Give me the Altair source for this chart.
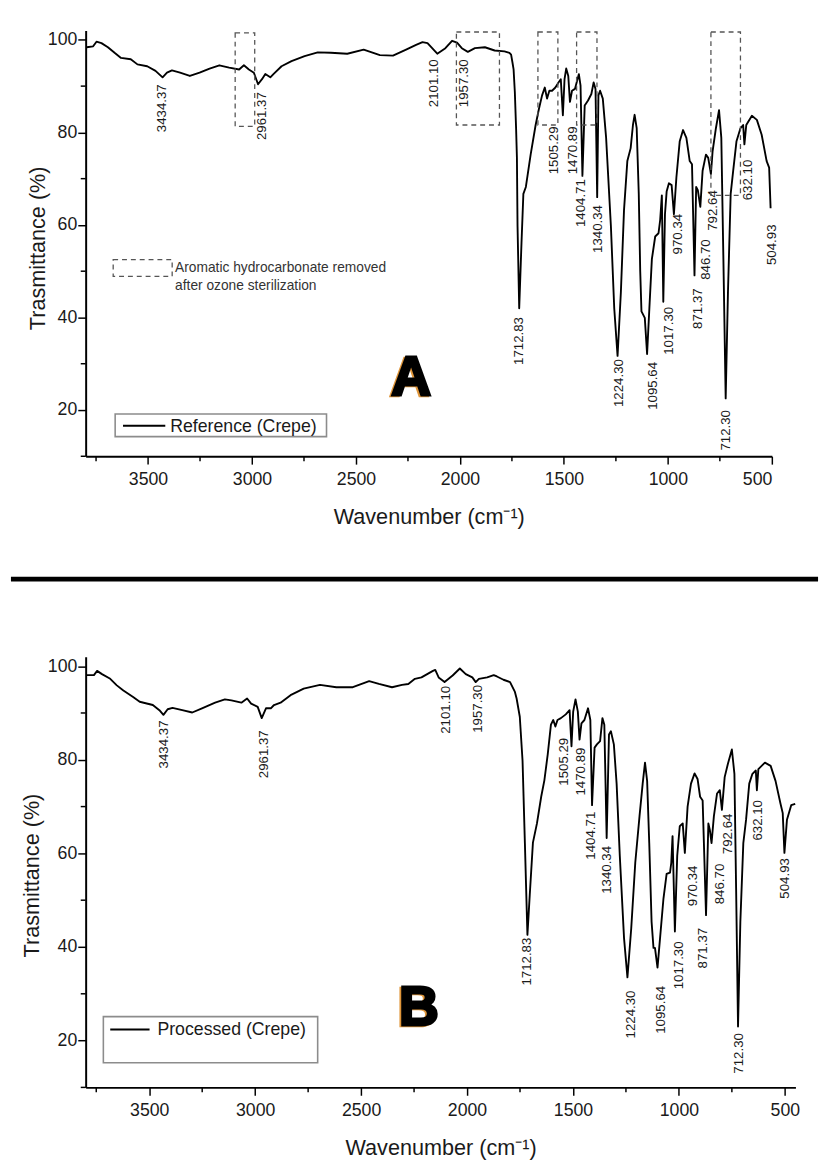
import altair as alt
import pandas as pd

FONT = "Liberation Sans"
INK = "#1a1a1a"

# ---------------- data: panel A (Reference crepe) ----------------
a_wn = [3795, 3764, 3748, 3724, 3693, 3661, 3630, 3583, 3551, 3504, 3464, 3430, 3409, 3385,
        3346, 3299, 3252, 3204, 3157, 3110, 3062, 3039, 3015, 2991, 2971, 2952, 2936, 2912,
        2897, 2858, 2810, 2747, 2684, 2621, 2542, 2463, 2385, 2322, 2259, 2211, 2180, 2156,
        2109, 2070, 2038, 2014, 1991, 1962, 1928, 1880, 1833, 1786, 1762, 1754, 1747, 1742,
        1736, 1730, 1726, 1723, 1715, 1704, 1695, 1683, 1660, 1636, 1620, 1605, 1592, 1581,
        1570, 1557, 1541, 1526, 1515, 1505, 1497, 1489, 1479, 1471, 1461, 1447, 1428, 1420,
        1411, 1400, 1384, 1368, 1357, 1348, 1340, 1334, 1326, 1313, 1297, 1274, 1258, 1242,
        1226, 1211, 1195, 1179, 1168, 1160, 1150, 1140, 1133, 1127, 1111, 1100, 1089, 1077,
        1061, 1045, 1037, 1029, 1022, 1014, 1006, 995, 982, 971, 959, 943, 927, 911, 895,
        884, 872, 864, 856, 844, 833, 817, 806, 793, 785, 769, 754, 743, 733, 722, 711, 698,
        686, 670, 651, 638, 632, 623, 596, 572, 549, 525, 513, 506]
a_t = [98.4, 98.6, 99.6, 99.3, 98.4, 97.2, 96.1, 95.8, 94.7, 94.3, 93.3, 91.9, 92.9, 93.4,
       92.9, 92.2, 92.9, 93.8, 94.5, 94.0, 93.6, 94.5, 93.6, 92.9, 90.4, 91.5, 92.6, 91.9,
       92.6, 94.3, 95.4, 96.5, 97.3, 97.2, 97.0, 97.9, 96.7, 96.6, 97.9, 98.9, 99.5, 99.3,
       97.0, 98.2, 99.8, 99.4, 98.2, 97.4, 98.2, 98.4, 97.7, 97.5, 97.2, 96.8, 95.0, 93.6,
       88.7, 80.9, 74.5, 59.7, 42.0, 56.1, 66.7, 68.2, 75.2, 81.6, 85.1, 88.0, 89.7, 87.3,
       89.0, 89.0, 89.7, 90.8, 91.5, 83.7, 91.5, 93.8, 92.2, 86.6, 89.0, 89.4, 92.6, 90.1,
       70.6, 85.8, 86.9, 88.3, 90.8, 89.4, 66.0, 88.0, 89.0, 87.3, 78.8, 59.7, 42.0, 31.7,
       45.5, 63.2, 73.8, 76.6, 81.6, 83.8, 80.9, 66.7, 50.0, 41.3, 39.9, 32.1, 42.0, 52.6,
       57.5, 58.2, 61.1, 66.4, 43.4, 62.3, 67.2, 69.0, 68.6, 62.3, 70.3, 78.1, 80.5, 78.8, 73.8,
       73.1, 49.1, 68.2, 67.5, 63.9, 71.7, 75.2, 74.5, 71.0, 75.9, 80.9, 84.8, 78.8, 52.6, 22.5,
       45.5, 66.7, 71.7, 78.1, 80.9, 81.6, 77.4, 81.6, 83.6, 82.7, 79.5, 73.8, 72.4, 63.6]

# ---------------- data: panel B (Processed crepe) ----------------
b_wn = [3795, 3761, 3746, 3723, 3684, 3653, 3622, 3576, 3545, 3483, 3452, 3433, 3413, 3390,
        3344, 3297, 3251, 3189, 3143, 3112, 3065, 3038, 3019, 2988, 2969, 2949, 2926, 2911,
        2880, 2833, 2771, 2694, 2617, 2539, 2462, 2416, 2354, 2307, 2277, 2246, 2215, 2161,
        2150, 2134, 2106, 2068, 2034, 2006, 1975, 1959, 1944, 1905, 1874, 1859, 1828, 1797,
        1774, 1766, 1751, 1738, 1727, 1715, 1704, 1689, 1670, 1650, 1635, 1619, 1604, 1593,
        1583, 1573, 1557, 1534, 1516, 1507, 1499, 1488, 1477, 1469, 1460, 1446, 1429, 1418,
        1410, 1398, 1387, 1372, 1361, 1352, 1341, 1330, 1321, 1307, 1294, 1279, 1259, 1243,
        1225, 1206, 1186, 1171, 1160, 1150, 1140, 1129, 1120, 1113, 1101, 1089, 1073, 1058,
        1042, 1036, 1030, 1019, 1008, 996, 982, 972, 959, 943, 926, 912, 900, 888, 872, 861,
        854, 846, 835, 820, 807, 797, 784, 769, 750, 738, 730, 721, 710, 696, 683, 668, 653,
        637, 632, 625, 594, 567, 544, 521, 510, 502, 490, 470, 451]
b_t = [98.1, 98.1, 99.0, 98.3, 97.3, 95.9, 94.8, 93.4, 92.4, 91.7, 90.6, 89.6, 90.8, 91.1,
       90.6, 90.1, 91.0, 92.2, 92.9, 92.7, 92.2, 93.1, 92.0, 91.3, 88.9, 91.0, 91.0, 91.7,
       92.2, 93.8, 95.2, 96.0, 95.5, 95.5, 96.8, 96.2, 95.5, 96.0, 96.2, 97.3, 97.6, 99.0,
       99.2, 97.6, 96.6, 98.0, 99.5, 98.3, 97.6, 96.6, 97.3, 97.6, 98.1, 97.8, 97.1, 96.6,
       94.5, 93.1, 89.2, 79.8, 62.3, 42.6, 51.1, 62.3, 66.4, 72.1, 75.6, 81.2, 87.5, 88.5,
       87.1, 88.5, 88.9, 89.7, 90.6, 82.9, 90.3, 92.9, 90.3, 84.3, 87.8, 88.5, 91.0, 88.5,
       70.3, 82.6, 83.3, 84.0, 88.9, 87.5, 63.3, 85.4, 86.1, 83.3, 74.9, 59.5, 41.9, 33.5,
       44.0, 58.0, 67.9, 74.9, 79.4, 75.5, 62.2, 45.4, 39.8, 39.8, 35.6, 41.9, 50.3, 55.6,
       55.9, 58.0, 63.7, 43.3, 59.5, 65.8, 66.4, 60.1, 70.0, 74.9, 77.1, 75.9, 72.1, 71.3, 46.8, 66.4,
       65.0, 62.2, 67.9, 72.8, 73.5, 69.3, 76.3, 79.1, 82.2, 77.0, 52.5, 23.0, 45.4, 62.2, 67.2, 74.9, 77.0,
       77.7, 73.5, 78.0, 79.4, 78.7, 75.5, 70.7, 68.6, 60.1, 67.2, 70.3, 70.6]

# ---------------- peak labels ----------------
peak_labels = ["3434.37", "2961.37", "2101.10", "1957.30", "1712.83", "1505.29", "1470.89",
               "1404.71", "1340.34", "1224.30", "1095.64", "1017.30", "970.34", "871.37",
               "846.70", "792.64", "712.30", "632.10", "504.93"]
a_lab_wn = [3431, 2954, 2126, 1980, 1715, 1545, 1455, 1417, 1337, 1233, 1073, 992, 950, 856,
            817, 785, 722, 613, 501]
a_lab_t = [90.4, 88.7, 95.8, 95.8, 40.1, 81.3, 81.3, 69.9, 64.3, 31.0, 30.4, 42.3, 62.4, 46.3,
           56.9, 67.5, 20.0, 74.1, 60.1]
b_lab_wn = [3429, 2957, 2099, 1949, 1715, 1542, 1461, 1414, 1341, 1225, 1082, 1001, 931, 885,
            807, 769, 715, 625, 498]
b_lab_t = [88.4, 86.3, 95.8, 96.0, 42.0, 84.7, 82.6, 68.9, 61.6, 30.7, 31.7, 41.2, 57.4, 44.1,
           57.8, 68.5, 21.6, 71.4, 59.0]

# dashed boxes (regions removed after ozone sterilization), panel A
box_x1 = [3081, 2017, 1625, 1439, 793]
box_x2 = [2987, 1810, 1529, 1341, 651]
box_y1 = [101.5, 101.7, 101.7, 101.7, 101.7]
box_y2 = [81.3, 81.6, 81.6, 81.6, 66.4]

x_major = [3500, 3000, 2500, 2000, 1500, 1000, 500]
x_minor = [3750, 3250, 2750, 2250, 1750, 1250, 750]
y_major = [20, 40, 60, 80, 100]
y_minor = [10, 30, 50, 70, 90]

ONE = pd.DataFrame({"k": [0]})


def panel(wn, t, lab_wn, lab_t, W, H, xdom, title_x, title_y, extras):
    xs = alt.Scale(domain=xdom, reverse=True, nice=False, zero=False)
    ys = alt.Scale(domain=[10, 102], nice=False, zero=False)
    xa = alt.Axis(values=x_major, format="d", title="Wavenumber (cm\u207b\u00b9)",
                  tickSize=8, labelPadding=7, titlePadding=18)
    ya = alt.Axis(values=y_major, format="d", title="Trasmittance (%)",
                  tickSize=8, labelPadding=1, titleX=title_x, titleY=title_y,
                  titleBaseline="alphabetic")

    def X(f):
        return alt.X(f, scale=xs, axis=xa, title="Wavenumber (cm\u207b\u00b9)")

    def Y(f):
        return alt.Y(f, scale=ys, axis=ya, title="Trasmittance (%)")

    curve = alt.Chart(pd.DataFrame({"wn": wn, "t": t})).mark_line(
        color="black", strokeWidth=1.9, strokeJoin="round").encode(x=X("wn:Q"), y=Y("t:Q"))
    labels = alt.Chart(pd.DataFrame({"wn": lab_wn, "t": lab_t, "lab": peak_labels})).mark_text(
        angle=270, align="right", baseline="middle", font=FONT, fontSize=13.5, color=INK).encode(
        x=X("wn:Q"), y=Y("t:Q"), text="lab:N")
    xminor = alt.Chart(pd.DataFrame({"wn": x_minor})).mark_rule(color="black", strokeWidth=1.5).encode(
        x=X("wn:Q"), y=alt.value(H), y2=alt.value(H + 5))
    yminor = alt.Chart(pd.DataFrame({"t": y_minor})).mark_rule(color="black", strokeWidth=1.5).encode(
        y=Y("t:Q"), x=alt.value(0), x2=alt.value(-5))
    layers = [curve, labels, xminor, yminor] + extras(X, Y)
    return alt.layer(*layers).properties(width=W, height=H)


def big_letter(ch, x, y):
    shadow = alt.Chart(ONE).mark_text(
        text=ch, font=FONT, fontSize=56, fontWeight="bold", align="center",
        baseline="alphabetic", color="#e0963a", stroke="#e0963a", strokeWidth=2.5).encode(
        x=alt.value(x - 2), y=alt.value(y + 1))
    main = alt.Chart(ONE).mark_text(
        text=ch, font=FONT, fontSize=56, fontWeight="bold", align="center",
        baseline="alphabetic", color="black", stroke="black", strokeWidth=3).encode(
        x=alt.value(x), y=alt.value(y))
    return [shadow, main]


def legend_box(text, bx1, bx2, by1, by2, sx1, sx2, sy, tx):
    box = alt.Chart(ONE).mark_rect(fillOpacity=0, stroke="#8c8c8c", strokeWidth=1.6).encode(
        x=alt.value(bx1), x2=alt.value(bx2), y=alt.value(by1), y2=alt.value(by2))
    sw = alt.Chart(ONE).mark_rule(color="black", strokeWidth=2).encode(
        x=alt.value(sx1), x2=alt.value(sx2), y=alt.value(sy))
    tx_ = alt.Chart(ONE).mark_text(text=text, font=FONT, fontSize=18, align="left",
                                   baseline="middle", color=INK).encode(
        x=alt.value(tx), y=alt.value(sy + 1))
    return [box, sw, tx_]


def extras_a(X, Y):
    boxes = alt.Chart(pd.DataFrame({"wn": box_x1, "x2": box_x2, "t": box_y1, "y2": box_y2})).mark_rect(
        fillOpacity=0, stroke="#555555", strokeWidth=1.3, strokeDash=[5, 4]).encode(
        x=X("wn:Q"), x2="x2:Q", y=Y("t:Q"), y2="y2:Q")
    key = alt.Chart(ONE).mark_rect(fillOpacity=0, stroke="#555555", strokeWidth=1.3,
                                   strokeDash=[5, 4]).encode(
        x=alt.value(28), x2=alt.value(88), y=alt.value(233), y2=alt.value(250))
    t1 = alt.Chart(ONE).mark_text(text="Aromatic hydrocarbonate removed", font=FONT, fontSize=14,
                                  align="left", baseline="middle", color="#333333").encode(
        x=alt.value(91), y=alt.value(242))
    t2 = alt.Chart(ONE).mark_text(text="after ozone sterilization", font=FONT, fontSize=14,
                                  align="left", baseline="middle", color="#333333").encode(
        x=alt.value(91), y=alt.value(260))
    sep = alt.Chart(ONE).mark_rule(color="black", strokeWidth=5).encode(
        x=alt.value(-76), x2=alt.value(745), y=alt.value(558))
    return ([boxes, key, t1, t2, sep]
            + legend_box("Reference (Crepe)", 30, 245, 390, 413, 38, 81, 402, 86)
            + big_letter("A", 331, 371))


def extras_b(X, Y):
    return (legend_box("Processed (Crepe)", 18, 236, 366, 413, 25, 65, 379, 73)
            + big_letter("B", 339, 375))


top = panel(a_wn, a_t, a_lab_wn, a_lab_t, 698, 433, [500, 3800], -42, 221, extras_a)
bottom = panel(b_wn, b_t, b_lab_wn, b_lab_t, 722, 438, [450, 3800], -48, 222, extras_b)

chart = alt.vconcat(top, bottom, spacing=204, bounds="flush").properties(
    padding={"left": 0, "top": 13, "right": 0, "bottom": 0},
    background="white",
).configure_view(stroke=None).configure_axis(
    domainColor="black", domainWidth=2, tickColor="black", tickWidth=1.5,
    labelFont=FONT, labelFontSize=18, labelColor=INK,
    titleFont=FONT, titleFontSize=22, titleFontWeight="normal", titleColor=INK,
    grid=False,
)

chart.save("out.html", embed_options={"renderer": "svg", "actions": False})
